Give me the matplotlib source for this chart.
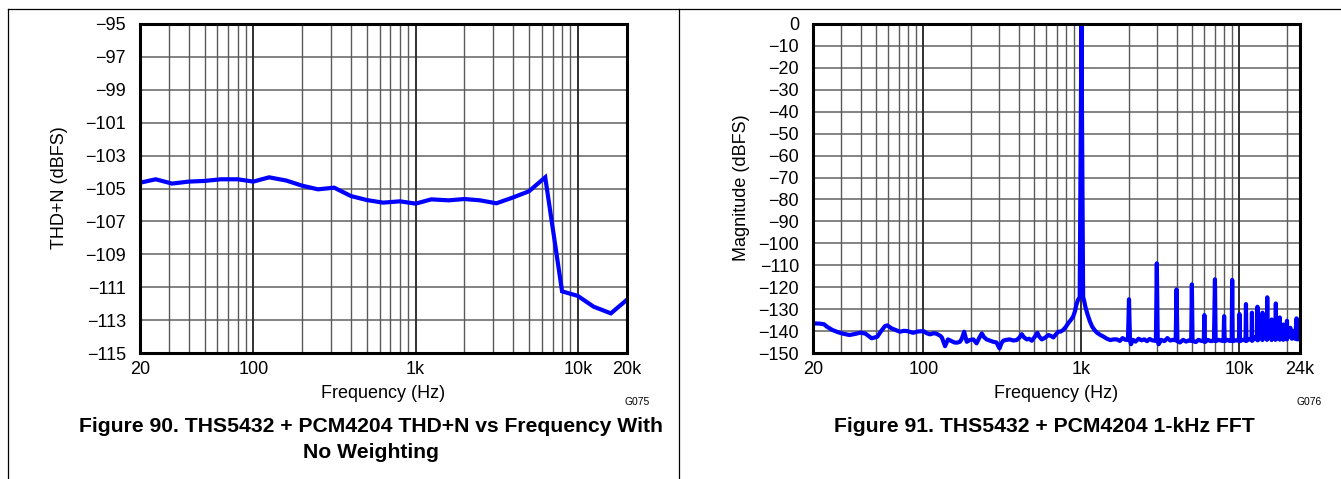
import matplotlib
matplotlib.use("Agg")
import matplotlib.pyplot as plt
from matplotlib.ticker import LogLocator, NullFormatter, FixedLocator, FixedFormatter
from matplotlib.lines import Line2D

plt.rcParams['font.family'] = ['Liberation Sans', 'DejaVu Sans']
plt.rcParams['axes.unicode_minus'] = True

# ---------------- Data: Figure 90 (THD+N vs frequency) ----------------
thd_freq = [20, 25, 31.5, 40, 50, 63, 80, 100, 125, 160, 200, 250, 315, 400, 500,
            630, 800, 1000, 1250, 1600, 2000, 2500, 3150, 4000, 5000, 6300, 8000,
            10000, 12500, 16000, 20000]
thd_db = [-104.65, -104.44, -104.70, -104.58, -104.54, -104.44, -104.44, -104.58,
          -104.32, -104.52, -104.83, -105.05, -104.95, -105.46, -105.70, -105.86,
          -105.78, -105.92, -105.66, -105.72, -105.64, -105.72, -105.90, -105.54,
          -105.17, -104.32, -111.25, -111.53, -112.18, -112.59, -111.78]
thd_xticks = [20, 100, 1000, 10000, 20000]
thd_xlabels = ['20', '100', '1k', '10k', '20k']
thd_yticks = [-115, -113, -111, -109, -107, -105, -103, -101, -99, -97, -95]

# ---------------- Data: Figure 91 (1-kHz FFT) ----------------
fft_freq = [20, 22, 23.5, 24.5, 26.5, 29, 31, 34, 37, 40, 43, 47, 51, 54, 57, 59,
            63, 67, 71, 75, 79, 86, 92, 100, 105, 110, 116, 121, 128, 131, 137,
            143, 150, 157, 163, 170, 175, 181, 188, 196, 207, 217, 226, 234, 242,
            251, 262, 277, 290, 303, 312, 320, 335, 352, 370, 389, 405, 419, 432,
            451, 467, 485, 505, 526, 540, 561, 590, 618, 640, 664, 690, 713, 740,
            766, 795, 823, 855, 885, 910, 928, 950, 975, 1000, 1025, 1038, 1060,
            1089, 1130, 1170, 1210, 1257, 1320, 1385, 1450, 1524, 1600, 1678, 1750,
            1820, 1900, 1970, 2000, 2030, 2060, 2120, 2200, 2300, 2400, 2500, 2600,
            2700, 2800, 2960, 3000, 3040, 3080, 3200, 3350, 3500, 3650, 3800, 3950,
            4000, 4050, 4200, 4400, 4600, 4800, 4950, 5000, 5050, 5300, 5500, 5750,
            5950, 6000, 6050, 6300, 6600, 6900, 7000, 7070, 7400, 7700, 7930, 8000,
            8070, 8400, 8700, 8930, 9000, 9070, 9500, 9930, 10000, 10070, 10500,
            10930, 11000, 11070, 11500, 11930, 12000, 12070, 12500, 12930, 13000,
            13070, 13500, 13930, 14000, 14070, 14500, 14930, 15000, 15070, 15500,
            15930, 16000, 16070, 16500, 16930, 17000, 17070, 17500, 17930, 18000,
            18070, 18500, 18930, 19000, 19070, 19500, 19930, 20000, 20070, 20500,
            21000, 21500, 22000, 22500, 23000, 23300, 23700, 24000]
fft_db = [-136.5, -136.6, -136.9, -138.0, -139.5, -140.6, -141.2, -141.8, -141.3,
          -140.7, -141.2, -143.3, -142.6, -140.0, -137.8, -137.4, -138.8, -139.6,
          -140.3, -139.9, -140.0, -140.8, -140.2, -140.0, -141.0, -141.5, -141.0,
          -141.2, -142.2, -143.0, -146.9, -143.8, -144.5, -145.2, -145.3, -144.9,
          -143.5, -140.3, -144.9, -144.1, -143.8, -145.6, -143.0, -141.1, -142.8,
          -143.8, -144.3, -144.9, -145.2, -147.9, -145.5, -144.4, -144.0, -143.8,
          -144.3, -144.1, -143.0, -141.4, -142.8, -143.8, -143.5, -144.4, -142.8,
          -140.8, -142.5, -143.8, -143.0, -141.8, -142.2, -142.9, -141.5, -140.3,
          -140.2, -139.5, -138.2, -136.5, -135.0, -133.5, -131.0, -128.1, -125.9,
          -124.5, 0.0, -124.5, -125.9, -129.0, -132.0, -135.5, -138.0, -139.5,
          -140.8, -141.8, -142.6, -143.5, -144.1, -143.8, -143.8, -144.5, -143.2,
          -144.0, -144.0, -125.5, -144.5, -146.0, -144.0, -144.8, -143.5, -144.2,
          -143.8, -144.6, -143.6, -144.2, -144.5, -109.1, -144.5, -146.0, -144.0,
          -144.6, -143.2, -144.3, -144.0, -144.2, -121.0, -144.6, -145.2, -144.0,
          -144.8, -144.2, -144.5, -118.7, -144.5, -145.0, -144.0, -144.5, -144.6,
          -132.7, -145.0, -144.0, -144.6, -144.3, -116.4, -144.6, -144.0, -144.4,
          -144.5, -133.2, -144.6, -144.0, -144.5, -144.2, -116.7, -144.6, -144.2,
          -144.4, -132.2, -144.6, -144.0, -144.3, -127.7, -144.5, -143.6, -144.2,
          -131.6, -144.4, -142.8, -144.0, -128.9, -144.2, -141.5, -144.0, -131.6,
          -143.8, -139.8, -144.0, -124.6, -143.5, -140.0, -144.0, -134.7, -143.8,
          -139.5, -144.0, -127.4, -143.5, -140.5, -143.8, -133.8, -143.8, -141.5,
          -144.0, -137.0, -143.5, -140.5, -143.8, -135.3, -143.5, -141.0, -138.5,
          -143.5, -140.0, -143.5, -134.2, -143.8, -142.0, -143.5]
fft_xticks = [20, 100, 1000, 10000, 24000]
fft_xlabels = ['20', '100', '1k', '10k', '24k']
fft_yticks = list(range(-150, 1, 10))

W, H = 1341, 479
fig = plt.figure(figsize=(W / 100, H / 100), dpi=100)
fig.patch.set_facecolor('white')

def px_rect(x0, x1, ytop, ybot):
    return [x0 / W, 1 - ybot / H, (x1 - x0) / W, (ybot - ytop) / H]

BLUE = '#0000ff'
TICK_FS = 13
CAP_FS = 15.2

def style_axes(ax, xt, xl, yt, xmin, xmax):
    ax.set_xscale('log')
    ax.set_xlim(xmin, xmax)
    ax.set_ylim(yt[0], yt[-1])
    ax.xaxis.set_major_locator(FixedLocator(xt))
    ax.xaxis.set_major_formatter(FixedFormatter(xl))
    ax.xaxis.set_minor_locator(LogLocator(base=10, subs=[2, 3, 4, 5, 6, 7, 8, 9], numticks=20))
    ax.xaxis.set_minor_formatter(NullFormatter())
    ax.set_yticks(yt)
    ax.set_yticklabels([('\u2212' + str(-v)) if v < 0 else str(v) for v in yt])
    ax.tick_params(which='both', length=0, labelsize=TICK_FS, colors='black')
    ax.tick_params(axis='x', pad=6)
    ax.tick_params(axis='y', pad=10)
    ax.grid(False)
    for v in yt:
        ax.axhline(v, color='#6e6e6e', lw=1.2, zorder=1)
    decades = [d for d in [10, 100, 1000, 10000] if xmin < d < xmax]
    for d in [10, 100, 1000, 10000]:
        for s in range(2, 10):
            f = d * s
            if xmin < f < xmax and f not in decades:
                ax.axvline(f, color='#5a5a5a', lw=1.0, zorder=1)
    for d in decades:
        ax.axvline(d, color='#303030', lw=1.4, zorder=1)
    for sp in ax.spines.values():
        sp.set_linewidth(2.2)
        sp.set_color('black')
        sp.set_zorder(5)

# Left chart
ax1 = fig.add_axes(px_rect(140, 626.6, 24, 353))
style_axes(ax1, thd_xticks, thd_xlabels, thd_yticks, 20, 20000)
ax1.plot(thd_freq, thd_db, color=BLUE, lw=3.0, zorder=3, solid_joinstyle='miter')

# Right chart
ax2 = fig.add_axes(px_rect(813, 1299.5, 24, 353))
style_axes(ax2, fft_xticks, fft_xlabels, fft_yticks, 20, 24000)
ax2.plot(fft_freq, fft_db, color=BLUE, lw=3.0, zorder=3, clip_on=True)

def ftext(x, y, s, **kw):
    fig.text(x / W, 1 - y / H, s, ha='center', va='center', **kw)

ftext(59, 188, 'THD+N (dBFS)', rotation=90, fontsize=TICK_FS)
ftext(383.5, 393, 'Frequency (Hz)', fontsize=TICK_FS)
ftext(637, 402, 'G075', fontsize=7.4)
ftext(371, 426, 'Figure 90. THS5432 + PCM4204 THD+N vs Frequency With', fontsize=CAP_FS, fontweight='bold')
ftext(371, 453, 'No Weighting', fontsize=CAP_FS, fontweight='bold')

ftext(742, 188, 'Magnitude (dBFS)', rotation=90, fontsize=TICK_FS)
ftext(1056, 393, 'Frequency (Hz)', fontsize=TICK_FS)
ftext(1309, 402, 'G076', fontsize=7.4)
ftext(1044, 426, 'Figure 91. THS5432 + PCM4204 1-kHz FFT', fontsize=CAP_FS, fontweight='bold')

def fline(x0, y0, x1, y1):
    fig.add_artist(Line2D([x0 / W, x1 / W], [1 - y0 / H, 1 - y1 / H],
                          transform=fig.transFigure, color='black', lw=0.9))

fline(8, 9, 1341, 9)
fline(8, 9, 8, 479)
fline(679, 9, 679, 479)

fig.savefig('out.png', dpi=100, facecolor='white')
